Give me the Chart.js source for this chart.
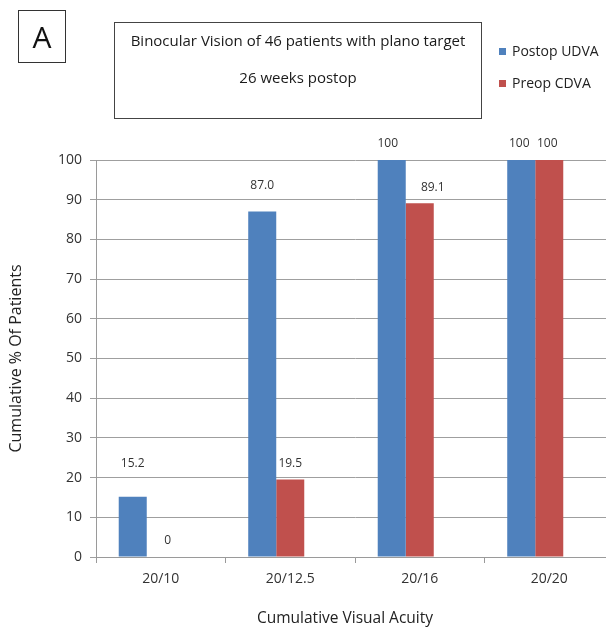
<!DOCTYPE html>
<html>
<head>
<meta charset="utf-8">
<script src="https://cdn.jsdelivr.net/npm/chart.js@4"></script>
<style>
  html, body { margin: 0; padding: 0; background: #fff; overflow: hidden; }
  body { width: 606px; height: 627px; position: relative; font-family: "Open Sans", sans-serif; color: #222; }
  #wrap { position: absolute; left: 0; top: 0; width: 620px; height: 627px; }
  #panel { position: absolute; left: 18px; top: 10px; width: 46px; height: 51px; border: 1px solid #333;
           font-size: 30px; line-height: 51px; text-align: center; color: #111; }
  #titlebox { position: absolute; left: 114px; top: 22px; width: 366px; height: 95px; border: 1.5px solid #444; }
  #titlebox div { position: absolute; left: 0; right: 0; text-align: center; font-size: 15px; color: #1a1a1a; }
  #legend { position: absolute; left: 499px; top: 41px; }
  .lg { position: absolute; left: 0; white-space: nowrap; font-size: 14px; color: #222; }
  .lg span.sw { display: inline-block; width: 7px; height: 7px; margin-right: 6px; vertical-align: 1px; }
  #xtitle { position: absolute; left: 195px; width: 300px; top: 607px; text-align: center;
            font-size: 15.5px; line-height: 20px; color: #222; }
</style>
</head>
<body>
<div id="wrap"><canvas id="c"></canvas></div>
<div id="panel">A</div>
<div id="titlebox">
  <div style="top:7px">Binocular Vision of 46 patients with plano target</div>
  <div style="top:44px">26 weeks postop</div>
</div>
<div id="legend"></div>
<div id="xtitle">Cumulative Visual Acuity</div>
<script>
// Visual acuity thresholds and cumulative percentages
const acuityLabels = ['20/10', '20/12.5', '20/16', '20/20'];
const postopUDVA = [15.2, 87.0, 100, 100];
const preopCDVA = [0, 19.5, 89.1, 100];
// third slot of each group is an empty series, leaving the pair left of centre
const emptySeries = [null, null, null, null];
const yTicks = [0, 10, 20, 30, 40, 50, 60, 70, 80, 90, 100];

const seriesNames = ['Postop UDVA', 'Preop CDVA'];
const seriesColors = ['#4F81BD', '#C0504D'];

function fmt(v) {
  return (v === 0 || v === 100) ? String(v) : v.toFixed(1);
}

// small hand placements of the value labels (dx, dy in px)
const labelNudge = [
  [[0, -17], [0, -10], [-4, 0], [-2, 0]],
  [[7, 0], [0, 0], [13, 0], [-2, 0]]
];

const valueLabels = {
  id: 'valueLabels',
  afterDatasetsDraw(chart) {
    const ctx = chart.ctx;
    ctx.save();
    ctx.font = '12px "Open Sans", sans-serif';
    ctx.fillStyle = '#333';
    ctx.textAlign = 'center';
    ctx.textBaseline = 'middle';
    [0, 1].forEach(di => {
      const meta = chart.getDatasetMeta(di);
      meta.data.forEach((bar, i) => {
        const v = chart.data.datasets[di].data[i];
        if (v === null) return;
        const n = labelNudge[di][i];
        ctx.fillText(fmt(v), bar.x + n[0], bar.y - 16 + n[1]);
      });
    });
    ctx.restore();
  }
};

const chart = new Chart(document.getElementById('c'), {
  type: 'bar',
  data: {
    labels: acuityLabels,
    datasets: [
      { label: seriesNames[0], data: postopUDVA, backgroundColor: seriesColors[0] },
      { label: seriesNames[1], data: preopCDVA, backgroundColor: seriesColors[1] },
      { label: '', data: emptySeries, backgroundColor: 'rgba(0,0,0,0)' }
    ]
  },
  options: {
    responsive: true,
    maintainAspectRatio: false,
    animation: false,
    datasets: { bar: { categoryPercentage: 0.649, barPercentage: 1, borderWidth: 0 } },
    layout: { padding: { top: 160, right: 6, left: 0, bottom: 0 } },
    plugins: { legend: { display: false }, tooltip: { enabled: false } },
    scales: {
      x: {
        grid: { offset: true, drawOnChartArea: false, drawTicks: true, tickLength: 6, color: '#9a9a9a' },
        border: { color: '#9a9a9a', width: 1 },
        ticks: { padding: 8, color: '#333', font: { family: '"Open Sans", sans-serif', size: 14 } },
        afterFit(s) { s.height = 70; }
      },
      y: {
        min: 0, max: 100,
        afterBuildTicks(s) { s.ticks = yTicks.map(v => ({ value: v })); },
        grid: { color: '#9f9f9f', tickLength: 6, drawTicks: true },
        border: { color: '#9a9a9a', width: 1 },
        ticks: { padding: 8, color: '#333', font: { family: '"Open Sans", sans-serif', size: 14 } },
        title: { display: true, text: 'Cumulative % Of Patients', color: '#222',
                 font: { family: '"Open Sans", sans-serif', size: 16 }, padding: { top: 7, bottom: 0 } },
        afterFit(s) { s.width = 96; }
      }
    }
  },
  plugins: [valueLabels]
});

// legend built from the dataset names and colours
const lg = document.getElementById('legend');
seriesNames.forEach((name, i) => {
  const d = document.createElement('div');
  d.className = 'lg';
  d.style.top = (i * 32) + 'px';
  d.innerHTML = '<span class="sw" style="background:' + seriesColors[i] + '"></span>' + name;
  lg.appendChild(d);
});
</script>
</body>
</html>
